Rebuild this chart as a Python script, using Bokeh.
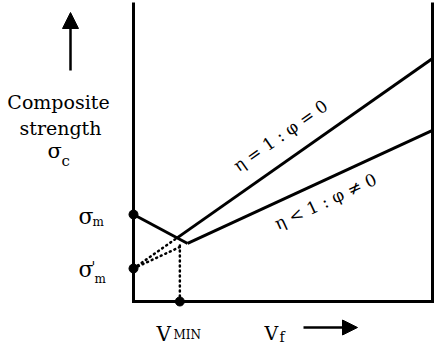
import math
from bokeh.plotting import figure
from bokeh.models import Label, Arrow, NormalHead, Range1d
from bokeh.embed import file_html
from bokeh.resources import INLINE

# ---------------- data (fibre volume fraction Vf, composite strength) ----------------
sigma_m = 29.4          # matrix strength
sigma_m_prime = 11.15   # matrix stress at fibre failure strain
vf_min = 0.155
strength_top = 101.0

frame_vf = [0.0, 0.0, 1.0, 1.0]
frame_strength = [strength_top, 0.0, 0.0, strength_top]

matrix_vf = [0.0, 0.181]
matrix_strength = [29.4, 19.6]

upper_vf = [0.146, 1.0]            # eta = 1 : phi = 0
upper_strength = [21.5, 82.1]
lower_vf = [0.181, 1.0]            # eta < 1 : phi != 0
lower_strength = [19.6, 57.8]

upper_extrap_vf = [0.0, 0.146]
upper_extrap_strength = [11.15, 21.5]
lower_extrap_vf = [0.0, 0.155]
lower_extrap_strength = [11.15, 18.4]
vmin_drop_vf = [0.155, 0.155]
vmin_drop_strength = [0.0, 19.4]

dot_vf = [0.0, 0.0, vf_min]
dot_strength = [sigma_m, sigma_m_prime, 0.0]

# ---------------- layout helpers ----------------
W, H = 435, 344
OFF = 0                    # page offset of the figure
OX, OY = 133, 301          # picture pixel of the origin
PX_X, PX_Y = 299.0, 2.96   # pixels per data unit


def dx(px):
    return (px - OX) / PX_X


def dy(py):
    return (OY - py) / PX_Y


p = figure(width=W, height=H, output_backend="svg", toolbar_location=None,
           x_range=Range1d(dx(OFF), dx(OFF + W)), y_range=Range1d(dy(OFF + H), dy(OFF)),
           min_border=0, min_border_left=0, min_border_right=0,
           min_border_top=0, min_border_bottom=0)
p.xaxis.visible = False
p.yaxis.visible = False
p.grid.visible = False
p.outline_line_color = None
p.background_fill_color = "white"
p.border_fill_color = "white"

FONT = "DejaVu Serif"

# frame
p.line(frame_vf, frame_strength, line_color="black", line_width=3, line_join="miter")
# solid curves
p.line(matrix_vf, matrix_strength, line_color="black", line_width=3)
p.line(upper_vf, upper_strength, line_color="black", line_width=3)
p.line(lower_vf, lower_strength, line_color="black", line_width=3)
# dotted
for xs, ys in [(upper_extrap_vf, upper_extrap_strength),
               (lower_extrap_vf, lower_extrap_strength),
               (vmin_drop_vf, vmin_drop_strength)]:
    p.line(xs, ys, line_color="black", line_width=2.5, line_dash="1 4", line_cap="round")
# dots
p.scatter(dot_vf, dot_strength, size=9, color="black")


def lab(text, px, py, size, align="left", angle=0.0, baseline="alphabetic"):
    p.add_layout(Label(x=dx(px), y=dy(py), text=text, text_font=FONT,
                       text_font_size=f"{size}px", text_color="black",
                       text_align=align, text_baseline=baseline, angle=angle))


# y label
lab("Composite", 58, 101.5, 19, "center")
lab("strength", 60, 127, 19, "center")
lab("σ", 47, 150, 21)
lab("c", 61, 160, 15)
# sigma_m
lab("σ", 78, 216, 22)
lab("m", 92, 221, 12)
lab("σ", 78, 269, 22)
lab("'", 91, 266, 14)
lab("m", 94, 278, 12)
# V_MIN
lab("V", 156, 333, 20)
lab("MIN", 173, 334, 12)
# V_f
lab("V", 264, 332, 19)
lab("f", 279, 336, 14)

# curve labels, rotated along the lines
ang_u = math.atan((upper_strength[1] - upper_strength[0]) / (upper_vf[1] - upper_vf[0]) * PX_Y / PX_X)
ang_l = math.atan((lower_strength[1] - lower_strength[0]) / (lower_vf[1] - lower_vf[0]) * PX_Y / PX_X)
lab("η = 1 : φ = 0", 280, 135, 17, "center", ang_u, "middle")
lab("η < 1 : φ ≠ 0", 325, 201, 17, "center", ang_l, "middle")

# arrows
p.add_layout(Arrow(x_start=dx(70), y_start=dy(70), x_end=dx(70), y_end=dy(12),
                   line_width=2.5, line_color="black",
                   end=NormalHead(size=16, fill_color="black", line_color="black")))
p.add_layout(Arrow(x_start=dx(303), y_start=dy(327), x_end=dx(357), y_end=dy(327),
                   line_width=2.5, line_color="black",
                   end=NormalHead(size=15, fill_color="black", line_color="black")))

open("out.html", "w").write(file_html(p, INLINE))
